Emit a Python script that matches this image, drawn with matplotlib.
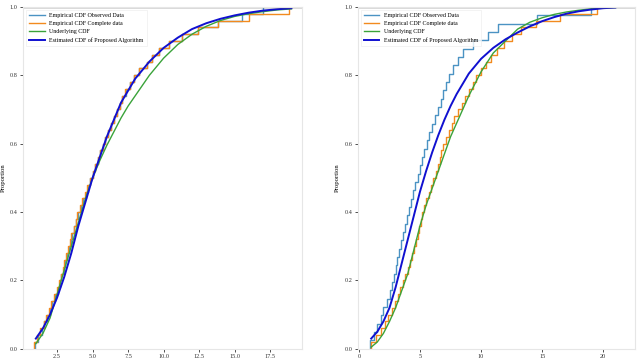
import numpy as np
import matplotlib.pyplot as plt

plt.rcParams['font.family'] = ['Liberation Serif', 'DejaVu Serif']

labels = ['Empirical CDF Observed Data', 'Empirical CDF Complete data',
          'Underlying CDF', 'Estimated CDF of Proposed Algorithm']

# ---- left panel ----
left_observed = [0.95, 1.15, 1.4, 1.6, 1.8, 2.0, 2.15, 2.35, 2.55, 2.7,
                 2.8, 2.95, 3.05, 3.2, 3.35, 3.45, 3.55, 3.7, 3.85, 3.95,
                 4.15, 4.3, 4.5, 4.65, 4.85, 5.0, 5.2, 5.35, 5.55, 5.7,
                 5.9, 6.1, 6.3, 6.5, 6.7, 6.9, 7.1, 7.35, 7.6, 7.9,
                 8.3, 8.8, 9.2, 9.7, 10.4, 11.3, 12.4, 13.8, 15.5, 17.0]
left_complete = [0.9, 1.1, 1.3, 1.55, 1.75, 1.9, 2.1, 2.3, 2.5, 2.65,
                 2.75, 2.9, 3.0, 3.15, 3.3, 3.4, 3.5, 3.7, 3.8, 3.9,
                 4.1, 4.25, 4.45, 4.6, 4.8, 5.0, 5.15, 5.35, 5.5, 5.7,
                 5.9, 6.1, 6.3, 6.5, 6.7, 6.9, 7.1, 7.3, 7.6, 7.9,
                 8.3, 8.8, 9.2, 9.7, 10.4, 11.3, 12.4, 13.8, 16.0, 18.8]
left_true_x = [1.0, 1.5, 2.0, 2.5, 3.0, 3.5, 4.0, 4.5, 5.0, 5.5, 6.0, 6.5, 7.0,
               7.5, 8.0, 8.5, 9.0, 10.0, 11.0, 12.0, 13.0, 14.0, 15.0, 16.0,
               17.0, 18.0, 19.0]
left_true_y = [0.015, 0.045, 0.09, 0.16, 0.23, 0.30, 0.37, 0.44, 0.50, 0.55,
               0.595, 0.635, 0.675, 0.71, 0.74, 0.77, 0.80, 0.85, 0.89, 0.92,
               0.943, 0.96, 0.972, 0.98, 0.986, 0.991, 0.994]
left_est_x = [1.0, 1.5, 2.0, 2.5, 3.0, 3.5, 4.0, 4.5, 5.0, 5.5, 6.0, 6.5, 7.0,
              8.0, 9.0, 10.0, 11.0, 12.0, 13.0, 14.0, 15.0, 16.0, 17.0, 18.0, 19.0]
left_est_y = [0.03, 0.06, 0.10, 0.15, 0.21, 0.28, 0.36, 0.43, 0.50, 0.56,
              0.62, 0.67, 0.72, 0.79, 0.84, 0.88, 0.91, 0.935, 0.952, 0.965,
              0.975, 0.983, 0.989, 0.993, 0.996]

# ---- right panel ----
right_observed = [0.9, 1.2, 1.5, 1.8, 2.0, 2.3, 2.5, 2.7, 2.85, 3.0,
                  3.15, 3.3, 3.45, 3.6, 3.8, 3.95, 4.1, 4.3, 4.45, 4.6,
                  4.8, 5.0, 5.2, 5.35, 5.55, 5.75, 6.0, 6.2, 6.45, 6.7,
                  6.9, 7.15, 7.4, 7.7, 8.1, 8.5, 9.3, 10.6, 11.4, 14.6, 19.0]
right_complete = [1.0, 1.4, 1.8, 2.1, 2.4, 2.7, 2.95, 3.2, 3.4, 3.6,
                  3.8, 4.0, 4.2, 4.35, 4.5, 4.65, 4.8, 4.95, 5.1, 5.2,
                  5.35, 5.5, 5.7, 5.9, 6.1, 6.3, 6.5, 6.6, 6.7, 6.9,
                  7.1, 7.35, 7.6, 7.8, 8.1, 8.4, 8.7, 9.0, 9.3, 9.6,
                  10.0, 10.4, 10.8, 11.3, 11.9, 12.5, 13.3, 14.5, 16.5, 19.5]
right_true_x = [1.0, 1.5, 2.0, 2.5, 3.0, 3.5, 4.0, 4.5, 5.0, 5.5, 6.0, 6.5,
                7.0, 7.5, 8.0, 9.0, 10.0, 11.0, 12.0, 13.0, 14.0, 15.0, 16.0,
                17.0, 18.0, 19.0, 20.0, 21.0]
right_true_y = [0.005, 0.02, 0.045, 0.08, 0.12, 0.17, 0.22, 0.29, 0.36, 0.42,
                0.47, 0.52, 0.57, 0.62, 0.66, 0.74, 0.81, 0.865, 0.90, 0.935,
                0.955, 0.968, 0.978, 0.985, 0.99, 0.994, 0.997, 0.998]
right_est_x = [1.0, 1.5, 2.0, 2.5, 3.0, 3.5, 4.0, 4.5, 5.0, 5.5, 6.0, 6.5, 7.0,
               7.5, 8.0, 9.0, 10.0, 11.0, 12.0, 13.0, 14.0, 15.0, 16.0, 17.0,
               18.0, 19.0, 20.0, 21.0]
right_est_y = [0.03, 0.05, 0.08, 0.12, 0.18, 0.25, 0.32, 0.39, 0.46, 0.52,
               0.575, 0.625, 0.67, 0.71, 0.745, 0.805, 0.848, 0.88, 0.905, 0.925,
               0.943, 0.958, 0.97, 0.98, 0.987, 0.992, 0.996, 0.998]

fig = plt.figure(figsize=(6.4, 3.6), dpi=100)
ax1 = fig.add_axes([0.036, 0.031, 0.436, 0.95])
ax2 = fig.add_axes([0.559, 0.031, 0.433, 0.95])


def ecdf(ax, data, color, label):
    xs = np.sort(np.array(data))
    ys = np.arange(1, len(xs) + 1) / len(xs)
    ax.step(np.r_[xs[0], xs], np.r_[0, ys], where='post', color=color,
            lw=1.0, label=label)


panels = [
    (ax1, left_observed, left_complete, left_true_x, left_true_y, left_est_x, left_est_y,
     [2.5, 5.0, 7.5, 10.0, 12.5, 15.0, 17.5], ['2.5', '5.0', '7.5', '10.0', '12.5', '15.0', '17.5'],
     (0.1, 19.75)),
    (ax2, right_observed, right_complete, right_true_x, right_true_y, right_est_x, right_est_y,
     [0, 5, 10, 15, 20], ['0', '5', '10', '15', '20'], (-0.1, 22.6)),
]

for ax, obs, comp, tx, ty, ex, ey, xt, xtl, xl in panels:
    ecdf(ax, obs, '#4b93c3', labels[0])
    ecdf(ax, comp, '#f28a1e', labels[1])
    ax.plot(tx, ty, color='#3aa33a', lw=1.0, label=labels[2])
    ax.plot(ex, ey, color='#1010d0', lw=1.4, label=labels[3])
    ax.axhline(1.0, color='#444444', lw=1.0)
    ax.set_xlim(*xl)
    ax.set_ylim(0, 1.0)
    ax.set_xticks(xt)
    ax.set_xticklabels(xtl)
    ax.set_yticks([0.0, 0.2, 0.4, 0.6, 0.8, 1.0])
    ax.set_yticklabels(['0.0', '0.2', '0.4', '0.6', '0.8', '1.0'])
    ax.tick_params(labelsize=4.5, length=2, width=0.6, pad=2, colors='#333333')
    for s in ax.spines.values():
        s.set_color('#e6e6e6')
        s.set_linewidth(0.8)
    ax.set_ylabel('Proportion', fontsize=4.8, labelpad=3)
    leg = ax.legend(loc='upper left', fontsize=4.3, frameon=True, handlelength=2.6,
                    borderpad=0.5, labelspacing=0.5, fancybox=False)
    leg.get_frame().set_edgecolor('#eeeeee')
    leg.get_frame().set_linewidth(0.6)

fig.savefig('out.png', dpi=100)
